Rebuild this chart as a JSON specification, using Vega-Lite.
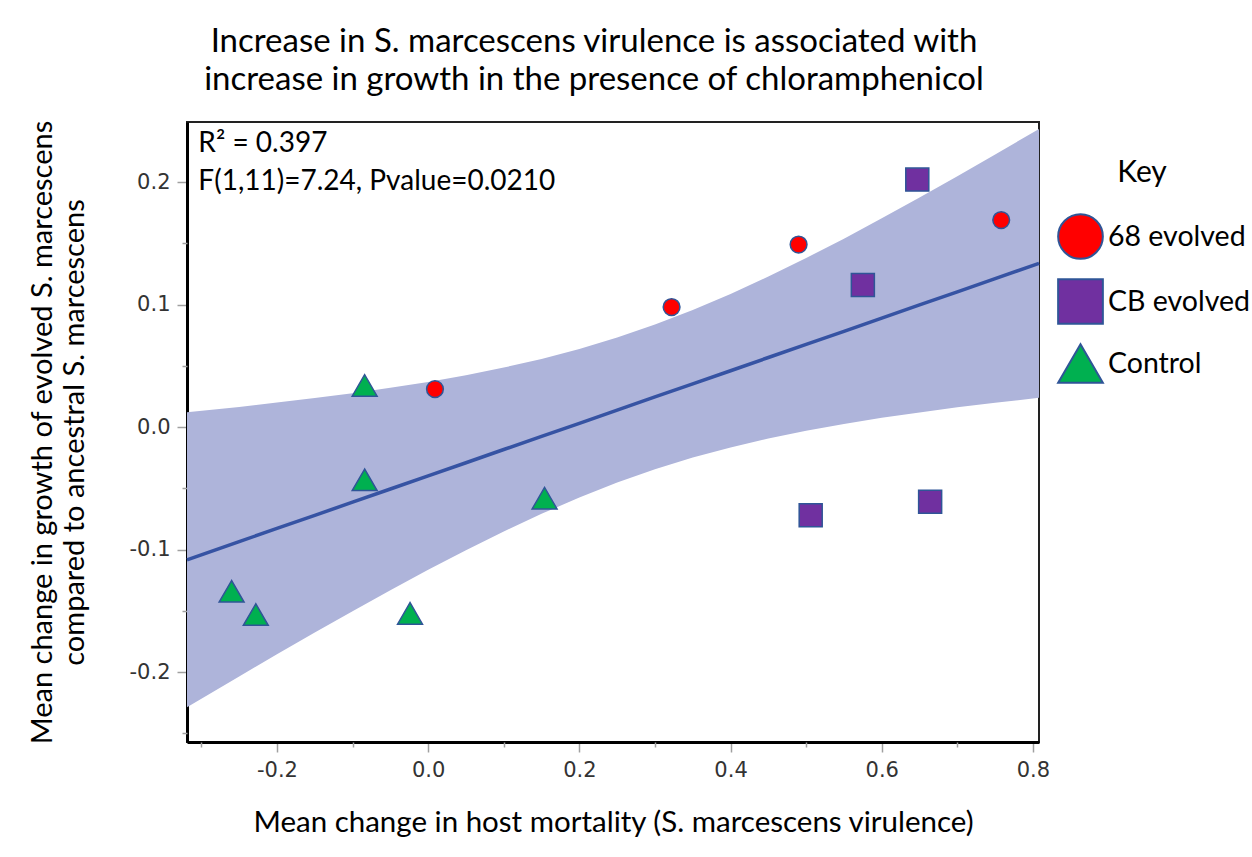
{
  "$schema": "https://vega.github.io/schema/vega-lite/v6.json",
  "width": 852,
  "height": 620,
  "autosize": "none",
  "padding": {"left": 187, "top": 122, "right": 213, "bottom": 115},
  "background": "white",
  "config": {"view": {"stroke": "#222222", "strokeWidth": 2}},
  "title": {
    "text": ["Increase in S. marcescens virulence is associated with", "increase in growth in the presence of chloramphenicol"],
    "font": "Lato", "fontSize": 33, "fontWeight": "normal", "color": "black",
    "lineHeight": 38, "anchor": "middle", "dx": -19, "offset": 23
  },
  "datasets": {
    "points": [
      {"x": 0.009, "y": 0.031, "group": "68 evolved"},
      {"x": 0.322, "y": 0.098, "group": "68 evolved"},
      {"x": 0.490, "y": 0.149, "group": "68 evolved"},
      {"x": 0.758, "y": 0.169, "group": "68 evolved"},
      {"x": 0.647, "y": 0.202, "group": "CB evolved"},
      {"x": 0.575, "y": 0.116, "group": "CB evolved"},
      {"x": 0.506, "y": -0.072, "group": "CB evolved"},
      {"x": 0.664, "y": -0.061, "group": "CB evolved"},
      {"x": -0.084, "y": 0.034, "group": "Control"},
      {"x": -0.084, "y": -0.043, "group": "Control"},
      {"x": 0.154, "y": -0.058, "group": "Control"},
      {"x": -0.260, "y": -0.134, "group": "Control"},
      {"x": -0.228, "y": -0.153, "group": "Control"},
      {"x": -0.024, "y": -0.152, "group": "Control"}
    ],
    "band": [
      {"x": -0.319, "fit": -0.1083, "lo": -0.2287, "hi": 0.0121},
      {"x": -0.25, "fit": -0.0935, "lo": -0.2035, "hi": 0.0165},
      {"x": -0.2, "fit": -0.0827, "lo": -0.1854, "hi": 0.0200},
      {"x": -0.15, "fit": -0.0720, "lo": -0.1677, "hi": 0.0237},
      {"x": -0.1, "fit": -0.0613, "lo": -0.1503, "hi": 0.0277},
      {"x": -0.05, "fit": -0.0505, "lo": -0.1331, "hi": 0.0321},
      {"x": 0.0, "fit": -0.0398, "lo": -0.1165, "hi": 0.0369},
      {"x": 0.05, "fit": -0.0291, "lo": -0.1005, "hi": 0.0423},
      {"x": 0.1, "fit": -0.0183, "lo": -0.0852, "hi": 0.0486},
      {"x": 0.15, "fit": -0.0076, "lo": -0.0708, "hi": 0.0556},
      {"x": 0.2, "fit": 0.0031, "lo": -0.0575, "hi": 0.0637},
      {"x": 0.25, "fit": 0.0139, "lo": -0.0453, "hi": 0.0731},
      {"x": 0.3, "fit": 0.0246, "lo": -0.0345, "hi": 0.0837},
      {"x": 0.35, "fit": 0.0353, "lo": -0.0249, "hi": 0.0955},
      {"x": 0.4, "fit": 0.0460, "lo": -0.0166, "hi": 0.1086},
      {"x": 0.45, "fit": 0.0568, "lo": -0.0093, "hi": 0.1229},
      {"x": 0.5, "fit": 0.0675, "lo": -0.0030, "hi": 0.1380},
      {"x": 0.55, "fit": 0.0782, "lo": 0.0026, "hi": 0.1538},
      {"x": 0.6, "fit": 0.0890, "lo": 0.0076, "hi": 0.1704},
      {"x": 0.65, "fit": 0.0997, "lo": 0.0120, "hi": 0.1874},
      {"x": 0.7, "fit": 0.1104, "lo": 0.0161, "hi": 0.2047},
      {"x": 0.75, "fit": 0.1212, "lo": 0.0199, "hi": 0.2225},
      {"x": 0.808, "fit": 0.1336, "lo": 0.0239, "hi": 0.2433}
    ],
    "notes": [
      {"x": -0.304, "y": 0.231, "label": "R² = 0.397"},
      {"x": -0.304, "y": 0.200, "label": "F(1,11)=7.24, Pvalue=0.0210"}
    ]
  },
  "resolve": {"axis": {"x": "independent", "y": "independent"}},
  "layer": [
    {
      "data": {"name": "band"},
      "mark": {"type": "area", "color": "#AEB4DA", "opacity": 1},
      "encoding": {
        "x": {
          "field": "x", "type": "quantitative",
          "scale": {"domain": [-0.319, 0.808], "nice": false, "zero": false},
          "axis": {
            "orient": "bottom",
            "values": [-0.2, 0, 0.2, 0.4, 0.6, 0.8], "format": ".1f",
            "labelExpr": "replace(datum.label, '−', '-')",
            "labelFont": "DejaVu Sans", "labelFontSize": 21, "labelColor": "#333333", "labelPadding": 7,
            "tickColor": "#A0A0A0", "tickWidth": 1.5, "tickSize": 10,
            "domainColor": "black", "domainWidth": 3, "grid": false,
            "title": "Mean change in host mortality (S. marcescens virulence)",
            "titleFont": "Lato", "titleFontSize": 29.5, "titleFontWeight": "normal", "titleColor": "black", "titlePadding": 28
          }
        },
        "y": {
          "field": "lo", "type": "quantitative",
          "scale": {"domain": [-0.257, 0.249], "nice": false, "zero": false},
          "axis": {
            "orient": "left",
            "values": [-0.2, -0.1, 0, 0.1, 0.2], "format": ".1f",
            "labelExpr": "replace(datum.label, '−', '-')",
            "labelFont": "DejaVu Sans", "labelFontSize": 21, "labelColor": "#333333", "labelPadding": 7,
            "tickColor": "#A0A0A0", "tickWidth": 1.5, "tickSize": 10,
            "domainColor": "black", "domainWidth": 3, "grid": false,
            "title": ["Mean change in growth of evolved S. marcescens", "compared to ancestral S. marcescens"],
            "titleFont": "Lato", "titleFontSize": 29, "titleFontWeight": "normal", "titleColor": "black",
            "titleLineHeight": 32, "titlePadding": 40
          }
        },
        "y2": {"field": "hi"}
      }
    },
    {
      "data": {"name": "band"},
      "mark": {"type": "line", "color": "#3653A3", "strokeWidth": 3.5},
      "encoding": {
        "x": {
          "field": "x", "type": "quantitative",
          "axis": {
            "orient": "bottom", "values": [-0.3, -0.1, 0.1, 0.3, 0.5, 0.7],
            "labels": false, "domain": false, "grid": false, "title": null,
            "tickColor": "#A0A0A0", "tickWidth": 1.5, "tickSize": 5
          }
        },
        "y": {
          "field": "fit", "type": "quantitative",
          "axis": {
            "orient": "left", "values": [-0.25, -0.15, -0.05, 0.05, 0.15],
            "labels": false, "domain": false, "grid": false, "title": null,
            "tickColor": "#A0A0A0", "tickWidth": 1.5, "tickSize": 5
          }
        }
      }
    },
    {
      "data": {"name": "points"},
      "mark": {"type": "point", "filled": true, "opacity": 1, "stroke": "#2F5597", "strokeWidth": 1.5},
      "encoding": {
        "x": {"field": "x", "type": "quantitative", "axis": null},
        "y": {"field": "y", "type": "quantitative", "axis": null},
        "color": {
          "field": "group", "type": "nominal",
          "scale": {"domain": ["68 evolved", "CB evolved", "Control"], "range": ["#FF0000", "#7030A0", "#00B050"]},
          "legend": {
            "title": "Key", "orient": "none", "legendX": 870, "legendY": 36,
            "symbolSize": 2000, "symbolStrokeColor": "#2F5597", "symbolStrokeWidth": 2, "symbolOpacity": 1,
            "labelFont": "Lato", "labelFontSize": 28.5, "labelColor": "black", "labelOffset": 4,
            "titleFont": "Lato", "titleFontSize": 30, "titleFontWeight": "normal", "titleColor": "black",
            "titleAnchor": "middle", "titlePadding": 25, "rowPadding": 12,
            "encode": {"title": {"update": {"dx": {"value": -12}}}}
          }
        },
        "shape": {
          "field": "group", "type": "nominal",
          "scale": {"domain": ["68 evolved", "CB evolved", "Control"], "range": ["circle", "square", "triangle-up"]},
          "legend": {"title": "Key"}
        },
        "size": {
          "condition": [
            {"test": "datum.group === '68 evolved'", "value": 280},
            {"test": "datum.group === 'CB evolved'", "value": 530}
          ],
          "value": 620
        }
      }
    },
    {
      "data": {"name": "notes"},
      "mark": {"type": "text", "align": "left", "baseline": "middle", "font": "Lato", "fontSize": 28, "color": "black"},
      "encoding": {
        "x": {"field": "x", "type": "quantitative", "axis": null},
        "y": {"field": "y", "type": "quantitative", "axis": null},
        "text": {"field": "label"}
      }
    }
  ]
}
